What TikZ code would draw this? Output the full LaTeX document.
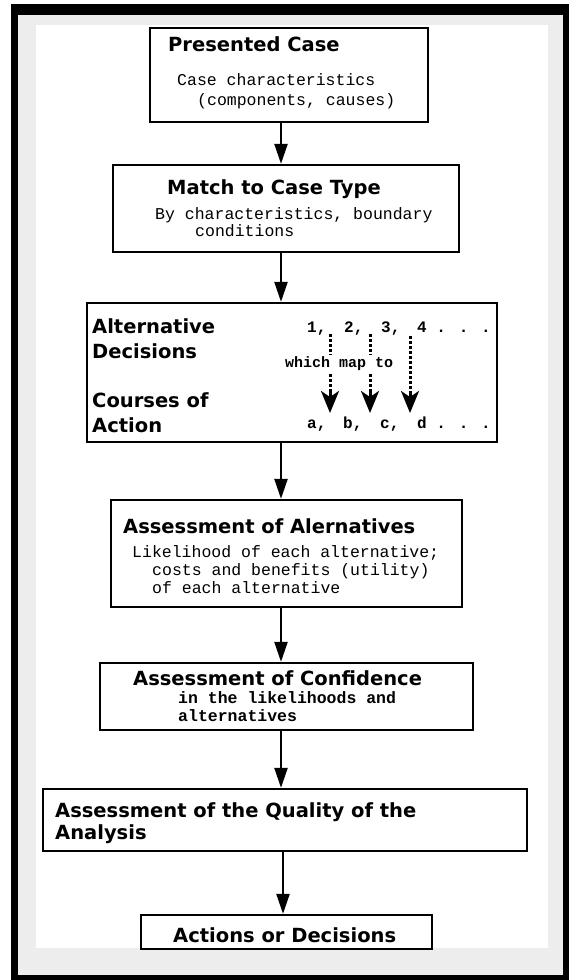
\documentclass[tikz,border=0pt]{standalone}
\usepackage{fontspec}
\setmainfont{DejaVu Sans}
\newfontfamily\monof{Liberation Mono}
\usetikzlibrary{arrows.meta}
\begin{document}
\begin{tikzpicture}[x=1pt,y=-1pt,
  boxs/.style={draw, line width=2.3pt, fill=white, inner sep=0pt},
  ttl/.style={anchor=base west, inner sep=0pt, font=\fontsize{19.5}{23}\selectfont\bfseries},
  mtx/.style={anchor=base west, inner sep=0pt, font=\monof\fontsize{16.5}{17}\selectfont},
  mtb/.style={anchor=base west, inner sep=0pt, font=\monof\fontsize{16.5}{17}\selectfont\bfseries},
  mnum/.style={anchor=base west, inner sep=0pt, font=\monof\fontsize{16}{17}\selectfont\bfseries},
  flow/.style={line width=2.3pt, -{Triangle[length=20pt,width=13pt]}},
  mapar/.style={line width=3pt, dash pattern=on 2.6pt off 2.4pt},
  maptip/.style={line width=3pt, -{Stealth[length=22pt,width=18pt,inset=6pt]}}
]
\useasboundingbox (0,0) rectangle (569,980);
% frame
\fill[black] (11,4) rectangle (569,980);
\fill[black!7] (18,15) rectangle (563,975);
\fill[white] (36,25) rectangle (548,948);
% boxes
\node[boxs, minimum width=278pt, minimum height=94pt] (b1) at (289,75) {};
\node[boxs, minimum width=346pt, minimum height=87pt] (b2) at (286,208.5) {};
\node[boxs, minimum width=410pt, minimum height=139pt] (b3) at (292,372.5) {};
\node[boxs, minimum width=351pt, minimum height=107pt] (b4) at (286.5,553.5) {};
\node[boxs, minimum width=373pt, minimum height=67pt] (b5) at (286.5,696.5) {};
\node[boxs, minimum width=484pt, minimum height=62pt] (b6) at (285,820) {};
\node[boxs, minimum width=291pt, minimum height=34pt] (b7) at (286.5,932) {};
% flow arrows
\coordinate (ax) at (281,0);
\coordinate (ax6) at (283,0);
\draw[flow] (b1.south -| ax) -- (b2.north -| ax);
\draw[flow] (b2.south -| ax) -- (b3.north -| ax);
\draw[flow] (b3.south -| ax) -- (b4.north -| ax);
\draw[flow] (b4.south -| ax) -- (b5.north -| ax);
\draw[flow] (b5.south -| ax) -- (b6.north -| ax);
\draw[flow] (b6.south -| ax6) -- (b7.north -| ax6);
% box 1
\node[ttl] (t1) at (168,51) {Presented Case};
\node[mtx] (t1a) at (177,85) {Case characteristics};
\node[mtx] (t1b) at (197,105) {(components, causes)};
% box 2
\node[ttl] (t2) at (167,194) {Match to Case Type};
\node[mtx] (t2a) at (155,219) {By characteristics, boundary};
\node[mtx] (t2b) at (195,236) {conditions};
% box 3
\node[ttl] (t3a) at (92,333) {Alternative};
\node[ttl] (t3b) at (92,358) {Decisions};
\node[ttl] (t3c) at (92,407) {Courses of};
\node[ttl] (t3d) at (92,432) {Action};
\node[mnum] (n1) at (307,332) {1,};
\node[mnum] (n2) at (344,332) {2,};
\node[mnum] (n3) at (381,332) {3,};
\node[mnum] (n4) at (417,332) {4 . . .};
\node[mnum] (la) at (307,428) {a,};
\node[mnum] (lb) at (343,428) {b,};
\node[mnum] (lc) at (380,428) {c,};
\node[mnum] (ld) at (417,428) {d . . .};
\coordinate (m1s) at (330,334);
\coordinate (m1k) at (330,392);
\coordinate (m1e) at (330,413);
\coordinate (m2s) at (370,334);
\coordinate (m2k) at (370,392);
\coordinate (m2e) at (370,413);
\coordinate (m3s) at (410,336);
\coordinate (m3k) at (410,392);
\coordinate (m3e) at (410,413);
\draw[mapar] (m1s) -- (m1k);
\draw[mapar] (m2s) -- (m2k);
\draw[mapar] (m3s) -- (m3k);
\draw[maptip] (m1k) -- (m1e);
\draw[maptip] (m2k) -- (m2e);
\draw[maptip] (m3k) -- (m3e);
\node[anchor=base west, inner sep=1.5pt, fill=white, font=\monof\fontsize{15}{17}\selectfont\bfseries] (wm) at (283.5,367) {which map to};
% box 4
\node[ttl] (t4) at (123,533) {Assessment of Alernatives};
\node[mtx] (t4a) at (132,557) {Likelihood of each alternative;};
\node[mtx] (t4b) at (152,575) {costs and benefits (utility)};
\node[mtx] (t4c) at (152,593) {of each alternative};
% box 5
\node[ttl] (t5) at (133,685) {Assessment of Confidence};
\node[mtb] (t5a) at (178,703) {in the likelihoods and};
\node[mtb] (t5b) at (178,721) {alternatives};
% box 6
\node[ttl] (t6a) at (55,817) {Assessment of the Quality of the};
\node[ttl] (t6b) at (55,839) {Analysis};
% box 7
\node[ttl] (t7) at (173,942) {Actions or Decisions};
\end{tikzpicture}
\end{document}
